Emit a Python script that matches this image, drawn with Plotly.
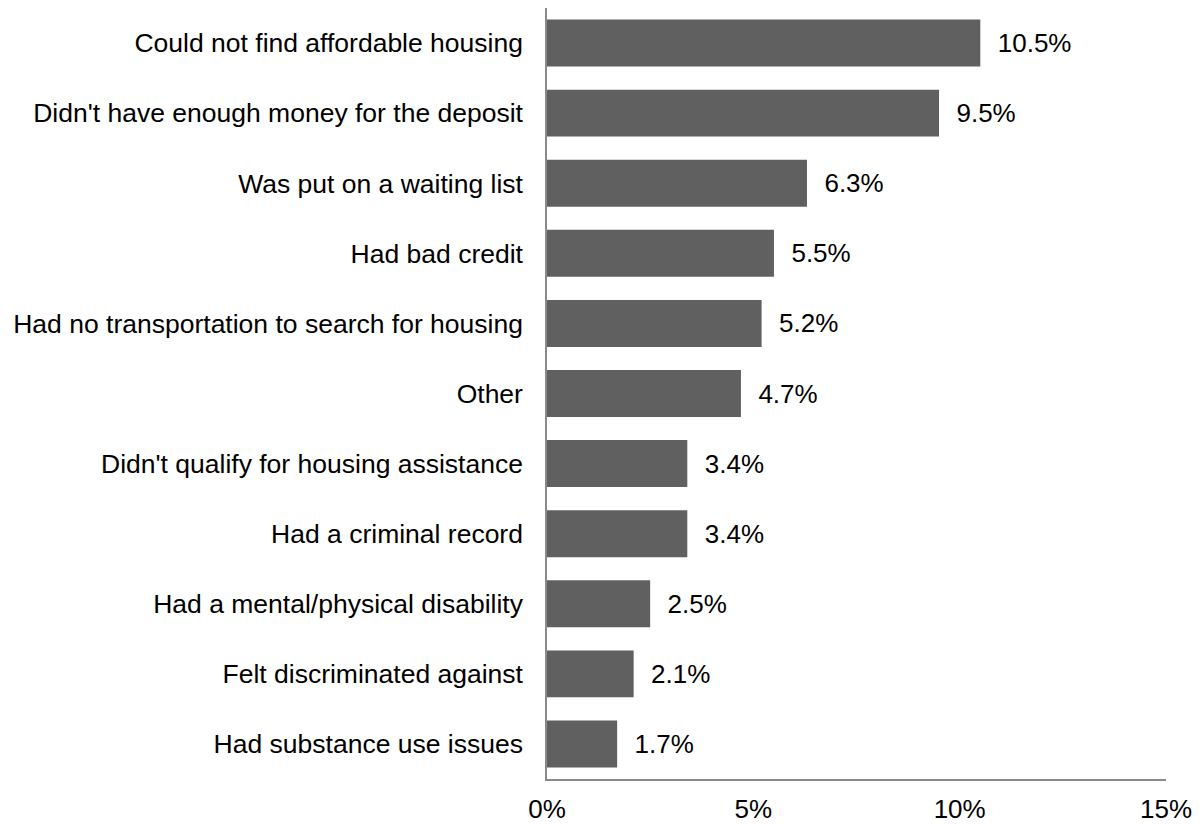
import plotly.graph_objects as go

categories = [
    "Could not find affordable housing",
    "Didn't have enough money for the deposit",
    "Was put on a waiting list",
    "Had bad credit",
    "Had no transportation to search for housing",
    "Other",
    "Didn't qualify for housing assistance",
    "Had a criminal record",
    "Had a mental/physical disability",
    "Felt discriminated against",
    "Had substance use issues",
]
values = [10.5, 9.5, 6.3, 5.5, 5.2, 4.7, 3.4, 3.4, 2.5, 2.1, 1.7]
tick_vals = [0, 5, 10, 15]
tick_text = ["0%", "5%", "10%", "15%"]

FONT = "Liberation Sans, Arial, sans-serif"

fig = go.Figure(
    go.Bar(
        x=values,
        y=categories,
        orientation="h",
        marker=dict(color="#606060", line=dict(width=0)),
        text=[f"\u00a0\u00a0{v:.1f}%" for v in values],
        textposition="outside",
        textfont=dict(family=FONT, size=26, color="#000000"),
        cliponaxis=False,
        hoverinfo="skip",
    )
)

# The page body has an 8px default margin, so the figure is sized to fit.
fig.update_layout(
    width=1192,
    height=817,
    margin=dict(l=539, r=34, t=0, b=46),
    paper_bgcolor="white",
    plot_bgcolor="white",
    bargap=0.33,
    showlegend=False,
    font=dict(family=FONT, size=26.5, color="#000000"),
)
fig.update_xaxes(
    range=[0, 15],
    tickvals=tick_vals,
    ticktext=tick_text,
    showgrid=False,
    zeroline=False,
    showline=True,
    linecolor="#8a8a8a",
    linewidth=1.5,
    ticks="",
    ticklabelstandoff=6,
    tickfont=dict(family=FONT, size=26),
)
fig.update_yaxes(
    autorange="reversed",
    showgrid=False,
    zeroline=False,
    showline=True,
    linecolor="#8a8a8a",
    linewidth=1.5,
    ticks="",
    ticklabelstandoff=17,
    tickfont=dict(family=FONT, size=26.5),
)

fig.write_html("out.html")
